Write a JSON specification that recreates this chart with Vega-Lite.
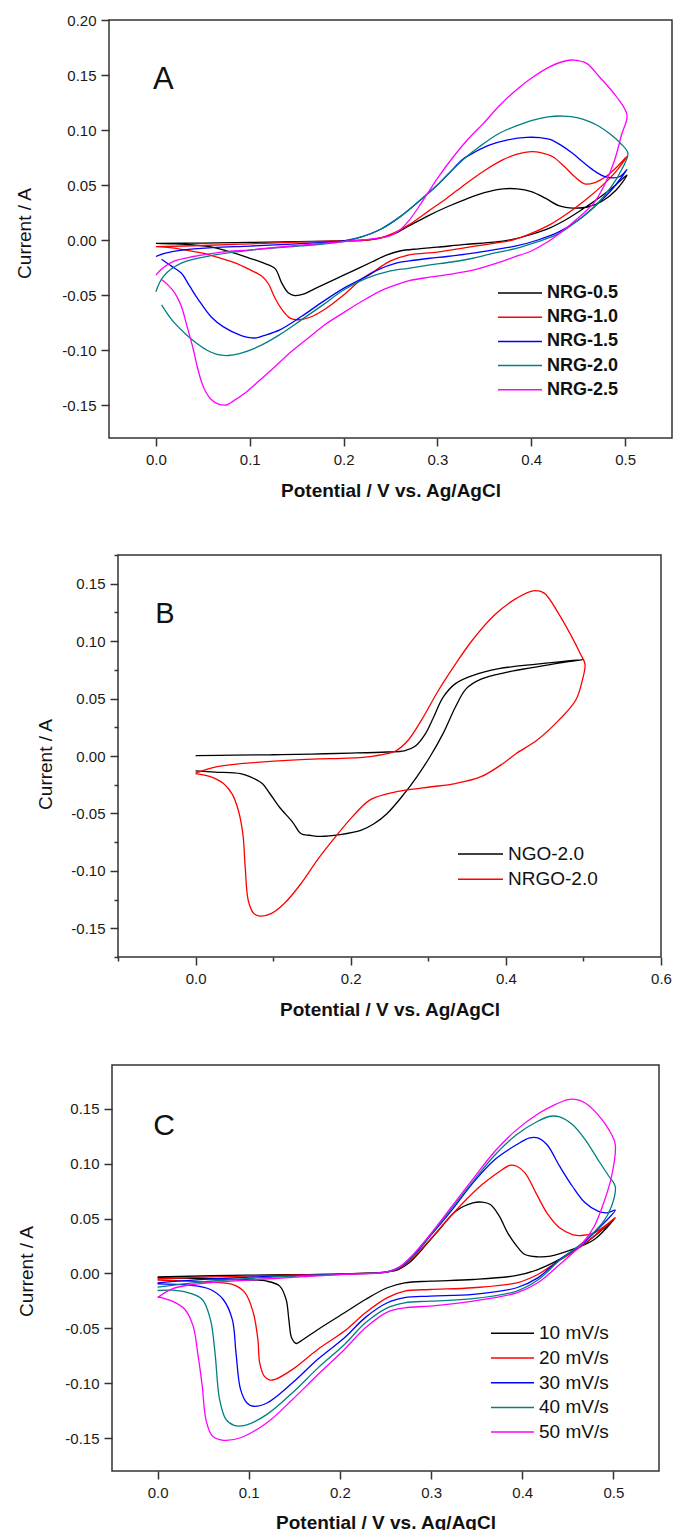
{
"$schema": "https://vega.github.io/schema/vega-lite/v6.json",
"padding": {"left": 0, "top": 12, "right": 0, "bottom": 0},
"spacing": 0,
"resolve": {"scale": {"color": "independent"}, "legend": {"color": "independent"}},
"config": {
  "font": "Liberation Sans",
  "view": {"stroke": "#333333", "strokeWidth": 1.5},
  "axis": {"domain": false, "grid": false, "tickColor": "#333333", "tickWidth": 1.5, "labelFont": "Liberation Sans", "labelFontSize": 15, "labelColor": "#1a1a1a", "titleFont": "Liberation Sans", "titleColor": "#111111", "labelOverlap": false, "labelFlush": false, "labelBound": false},
  "legend": {"padding": 0}
},
"vconcat": [
{"spacing": 0, "resolve": {"scale": {"color": "independent"}}, "hconcat": [
  {"width": 14, "height": 527, "view": {"stroke": null}, "data": {"values": []}, "mark": "point"},
  {"width": 563, "height": 418,
   "encoding": {
     "x": {"field": "x", "type": "quantitative", "scale": {"domain": [-0.05, 0.55], "nice": false, "zero": false},
           "axis": {"values": [0, 0.1, 0.2, 0.3, 0.4, 0.5], "format": ".1f", "tickSize": 8, "labelPadding": 6, "title": "Potential / V vs. Ag/AgCl", "titleFontSize": 19, "titleFontWeight": "bold", "titleBaseline": "alphabetic", "titleY": 58.3}},
     "y": {"field": "y", "type": "quantitative", "scale": {"domain": [-0.18, 0.2], "nice": false, "zero": false},
           "axis": {"values": [-0.15, -0.1, -0.05, 0, 0.05, 0.1, 0.15, 0.2], "labelExpr": "replace(format(datum.value, '.2f'), '\u2212', '-')", "tickSize": 8, "labelPadding": 5, "title": "Current / A", "titleFontSize": 19, "titleFontWeight": "normal", "titleAngle": 270, "titleBaseline": "middle", "titleAlign": "center", "titleX": -85, "titleY": 213}}
   },
   "layer": [
     {"data": {"values": [
{"s":"NRG-0.5","i":0,"x":0,"y":-0.003},{"s":"NRG-0.5","i":1,"x":0.05,"y":-0.0028},{"s":"NRG-0.5","i":2,"x":0.1,"y":-0.0022},{"s":"NRG-0.5","i":3,"x":0.15,"y":-0.0015},{"s":"NRG-0.5","i":4,"x":0.2,"y":-0.0008},{"s":"NRG-0.5","i":5,"x":0.225,"y":0},{"s":"NRG-0.5","i":6,"x":0.24,"y":0.002},{"s":"NRG-0.5","i":7,"x":0.255,"y":0.006},{"s":"NRG-0.5","i":8,"x":0.27,"y":0.013},{"s":"NRG-0.5","i":9,"x":0.29,"y":0.022},{"s":"NRG-0.5","i":10,"x":0.31,"y":0.03},{"s":"NRG-0.5","i":11,"x":0.33,"y":0.037},{"s":"NRG-0.5","i":12,"x":0.35,"y":0.043},{"s":"NRG-0.5","i":13,"x":0.37,"y":0.0465},{"s":"NRG-0.5","i":14,"x":0.385,"y":0.0465},{"s":"NRG-0.5","i":15,"x":0.4,"y":0.044},{"s":"NRG-0.5","i":16,"x":0.415,"y":0.038},{"s":"NRG-0.5","i":17,"x":0.43,"y":0.031},{"s":"NRG-0.5","i":18,"x":0.445,"y":0.029},{"s":"NRG-0.5","i":19,"x":0.46,"y":0.03},{"s":"NRG-0.5","i":20,"x":0.475,"y":0.035},{"s":"NRG-0.5","i":21,"x":0.49,"y":0.045},{"s":"NRG-0.5","i":22,"x":0.502,"y":0.059},{"s":"NRG-0.5","i":23,"x":0.49,"y":0.05},{"s":"NRG-0.5","i":24,"x":0.475,"y":0.04},{"s":"NRG-0.5","i":25,"x":0.46,"y":0.031},{"s":"NRG-0.5","i":26,"x":0.44,"y":0.02},{"s":"NRG-0.5","i":27,"x":0.42,"y":0.011},{"s":"NRG-0.5","i":28,"x":0.4,"y":0.005},{"s":"NRG-0.5","i":29,"x":0.38,"y":0.0005},{"s":"NRG-0.5","i":30,"x":0.36,"y":-0.002},{"s":"NRG-0.5","i":31,"x":0.33,"y":-0.004},{"s":"NRG-0.5","i":32,"x":0.3,"y":-0.0065},{"s":"NRG-0.5","i":33,"x":0.28,"y":-0.008},{"s":"NRG-0.5","i":34,"x":0.26,"y":-0.01},{"s":"NRG-0.5","i":35,"x":0.245,"y":-0.014},{"s":"NRG-0.5","i":36,"x":0.23,"y":-0.02},{"s":"NRG-0.5","i":37,"x":0.21,"y":-0.028},{"s":"NRG-0.5","i":38,"x":0.19,"y":-0.036},{"s":"NRG-0.5","i":39,"x":0.17,"y":-0.044},{"s":"NRG-0.5","i":40,"x":0.158,"y":-0.049},{"s":"NRG-0.5","i":41,"x":0.148,"y":-0.0505},{"s":"NRG-0.5","i":42,"x":0.141,"y":-0.048},{"s":"NRG-0.5","i":43,"x":0.134,"y":-0.039},{"s":"NRG-0.5","i":44,"x":0.127,"y":-0.026},{"s":"NRG-0.5","i":45,"x":0.115,"y":-0.021},{"s":"NRG-0.5","i":46,"x":0.1,"y":-0.0166},{"s":"NRG-0.5","i":47,"x":0.08,"y":-0.011},{"s":"NRG-0.5","i":48,"x":0.06,"y":-0.0065},{"s":"NRG-0.5","i":49,"x":0.04,"y":-0.0045},{"s":"NRG-0.5","i":50,"x":0.02,"y":-0.0035},{"s":"NRG-0.5","i":51,"x":0,"y":-0.003},
{"s":"NRG-1.0","i":0,"x":0,"y":-0.006},{"s":"NRG-1.0","i":1,"x":0.05,"y":-0.005},{"s":"NRG-1.0","i":2,"x":0.1,"y":-0.0035},{"s":"NRG-1.0","i":3,"x":0.15,"y":-0.002},{"s":"NRG-1.0","i":4,"x":0.2,"y":-0.0008},{"s":"NRG-1.0","i":5,"x":0.225,"y":0},{"s":"NRG-1.0","i":6,"x":0.24,"y":0.002},{"s":"NRG-1.0","i":7,"x":0.255,"y":0.007},{"s":"NRG-1.0","i":8,"x":0.27,"y":0.014},{"s":"NRG-1.0","i":9,"x":0.29,"y":0.026},{"s":"NRG-1.0","i":10,"x":0.31,"y":0.038},{"s":"NRG-1.0","i":11,"x":0.33,"y":0.051},{"s":"NRG-1.0","i":12,"x":0.35,"y":0.063},{"s":"NRG-1.0","i":13,"x":0.37,"y":0.073},{"s":"NRG-1.0","i":14,"x":0.385,"y":0.078},{"s":"NRG-1.0","i":15,"x":0.4,"y":0.0803},{"s":"NRG-1.0","i":16,"x":0.41,"y":0.0795},{"s":"NRG-1.0","i":17,"x":0.423,"y":0.0757},{"s":"NRG-1.0","i":18,"x":0.435,"y":0.067},{"s":"NRG-1.0","i":19,"x":0.447,"y":0.057},{"s":"NRG-1.0","i":20,"x":0.457,"y":0.051},{"s":"NRG-1.0","i":21,"x":0.467,"y":0.052},{"s":"NRG-1.0","i":22,"x":0.48,"y":0.058},{"s":"NRG-1.0","i":23,"x":0.492,"y":0.067},{"s":"NRG-1.0","i":24,"x":0.502,"y":0.076},{"s":"NRG-1.0","i":25,"x":0.49,"y":0.062},{"s":"NRG-1.0","i":26,"x":0.475,"y":0.049},{"s":"NRG-1.0","i":27,"x":0.46,"y":0.038},{"s":"NRG-1.0","i":28,"x":0.44,"y":0.025},{"s":"NRG-1.0","i":29,"x":0.42,"y":0.014},{"s":"NRG-1.0","i":30,"x":0.4,"y":0.006},{"s":"NRG-1.0","i":31,"x":0.38,"y":0},{"s":"NRG-1.0","i":32,"x":0.36,"y":-0.003},{"s":"NRG-1.0","i":33,"x":0.33,"y":-0.007},{"s":"NRG-1.0","i":34,"x":0.3,"y":-0.011},{"s":"NRG-1.0","i":35,"x":0.27,"y":-0.0135},{"s":"NRG-1.0","i":36,"x":0.25,"y":-0.019},{"s":"NRG-1.0","i":37,"x":0.235,"y":-0.027},{"s":"NRG-1.0","i":38,"x":0.22,"y":-0.035},{"s":"NRG-1.0","i":39,"x":0.2,"y":-0.05},{"s":"NRG-1.0","i":40,"x":0.18,"y":-0.063},{"s":"NRG-1.0","i":41,"x":0.165,"y":-0.07},{"s":"NRG-1.0","i":42,"x":0.152,"y":-0.0725},{"s":"NRG-1.0","i":43,"x":0.143,"y":-0.071},{"s":"NRG-1.0","i":44,"x":0.135,"y":-0.064},{"s":"NRG-1.0","i":45,"x":0.127,"y":-0.053},{"s":"NRG-1.0","i":46,"x":0.12,"y":-0.04},{"s":"NRG-1.0","i":47,"x":0.113,"y":-0.033},{"s":"NRG-1.0","i":48,"x":0.1,"y":-0.027},{"s":"NRG-1.0","i":49,"x":0.085,"y":-0.021},{"s":"NRG-1.0","i":50,"x":0.07,"y":-0.017},{"s":"NRG-1.0","i":51,"x":0.05,"y":-0.012},{"s":"NRG-1.0","i":52,"x":0.03,"y":-0.009},{"s":"NRG-1.0","i":53,"x":0.015,"y":-0.007},{"s":"NRG-1.0","i":54,"x":0,"y":-0.006},
{"s":"NRG-1.5","i":0,"x":0,"y":-0.015},{"s":"NRG-1.5","i":1,"x":0.01,"y":-0.012},{"s":"NRG-1.5","i":2,"x":0.03,"y":-0.009},{"s":"NRG-1.5","i":3,"x":0.06,"y":-0.007},{"s":"NRG-1.5","i":4,"x":0.1,"y":-0.0055},{"s":"NRG-1.5","i":5,"x":0.15,"y":-0.0035},{"s":"NRG-1.5","i":6,"x":0.2,"y":-0.0008},{"s":"NRG-1.5","i":7,"x":0.22,"y":0.003},{"s":"NRG-1.5","i":8,"x":0.24,"y":0.01},{"s":"NRG-1.5","i":9,"x":0.26,"y":0.021},{"s":"NRG-1.5","i":10,"x":0.28,"y":0.035},{"s":"NRG-1.5","i":11,"x":0.3,"y":0.05},{"s":"NRG-1.5","i":12,"x":0.315,"y":0.063},{"s":"NRG-1.5","i":13,"x":0.327,"y":0.0733},{"s":"NRG-1.5","i":14,"x":0.34,"y":0.08},{"s":"NRG-1.5","i":15,"x":0.356,"y":0.0864},{"s":"NRG-1.5","i":16,"x":0.375,"y":0.091},{"s":"NRG-1.5","i":17,"x":0.395,"y":0.0933},{"s":"NRG-1.5","i":18,"x":0.41,"y":0.093},{"s":"NRG-1.5","i":19,"x":0.42,"y":0.0915},{"s":"NRG-1.5","i":20,"x":0.432,"y":0.086},{"s":"NRG-1.5","i":21,"x":0.444,"y":0.0788},{"s":"NRG-1.5","i":22,"x":0.455,"y":0.071},{"s":"NRG-1.5","i":23,"x":0.467,"y":0.063},{"s":"NRG-1.5","i":24,"x":0.477,"y":0.058},{"s":"NRG-1.5","i":25,"x":0.487,"y":0.0565},{"s":"NRG-1.5","i":26,"x":0.495,"y":0.058},{"s":"NRG-1.5","i":27,"x":0.502,"y":0.064},{"s":"NRG-1.5","i":28,"x":0.485,"y":0.045},{"s":"NRG-1.5","i":29,"x":0.467,"y":0.03},{"s":"NRG-1.5","i":30,"x":0.45,"y":0.018},{"s":"NRG-1.5","i":31,"x":0.43,"y":0.0076},{"s":"NRG-1.5","i":32,"x":0.407,"y":0},{"s":"NRG-1.5","i":33,"x":0.384,"y":-0.0054},{"s":"NRG-1.5","i":34,"x":0.36,"y":-0.009},{"s":"NRG-1.5","i":35,"x":0.338,"y":-0.012},{"s":"NRG-1.5","i":36,"x":0.31,"y":-0.015},{"s":"NRG-1.5","i":37,"x":0.292,"y":-0.0166},{"s":"NRG-1.5","i":38,"x":0.27,"y":-0.019},{"s":"NRG-1.5","i":39,"x":0.256,"y":-0.021},{"s":"NRG-1.5","i":40,"x":0.237,"y":-0.027},{"s":"NRG-1.5","i":41,"x":0.224,"y":-0.0333},{"s":"NRG-1.5","i":42,"x":0.2,"y":-0.044},{"s":"NRG-1.5","i":43,"x":0.178,"y":-0.056},{"s":"NRG-1.5","i":44,"x":0.155,"y":-0.0696},{"s":"NRG-1.5","i":45,"x":0.132,"y":-0.0817},{"s":"NRG-1.5","i":46,"x":0.115,"y":-0.087},{"s":"NRG-1.5","i":47,"x":0.107,"y":-0.089},{"s":"NRG-1.5","i":48,"x":0.098,"y":-0.0885},{"s":"NRG-1.5","i":49,"x":0.091,"y":-0.087},{"s":"NRG-1.5","i":50,"x":0.072,"y":-0.079},{"s":"NRG-1.5","i":51,"x":0.059,"y":-0.07},{"s":"NRG-1.5","i":52,"x":0.045,"y":-0.054},{"s":"NRG-1.5","i":53,"x":0.036,"y":-0.042},{"s":"NRG-1.5","i":54,"x":0.027,"y":-0.03},{"s":"NRG-1.5","i":55,"x":0.017,"y":-0.024},{"s":"NRG-1.5","i":56,"x":0.006,"y":-0.0175},
{"s":"NRG-2.0","i":0,"x":0,"y":-0.047},{"s":"NRG-2.0","i":1,"x":0.008,"y":-0.033},{"s":"NRG-2.0","i":2,"x":0.027,"y":-0.021},{"s":"NRG-2.0","i":3,"x":0.063,"y":-0.0136},{"s":"NRG-2.0","i":4,"x":0.109,"y":-0.0085},{"s":"NRG-2.0","i":5,"x":0.155,"y":-0.0054},{"s":"NRG-2.0","i":6,"x":0.2,"y":-0.0015},{"s":"NRG-2.0","i":7,"x":0.22,"y":0.003},{"s":"NRG-2.0","i":8,"x":0.24,"y":0.01},{"s":"NRG-2.0","i":9,"x":0.26,"y":0.021},{"s":"NRG-2.0","i":10,"x":0.28,"y":0.035},{"s":"NRG-2.0","i":11,"x":0.3,"y":0.05},{"s":"NRG-2.0","i":12,"x":0.315,"y":0.063},{"s":"NRG-2.0","i":13,"x":0.329,"y":0.0743},{"s":"NRG-2.0","i":14,"x":0.345,"y":0.085},{"s":"NRG-2.0","i":15,"x":0.366,"y":0.097},{"s":"NRG-2.0","i":16,"x":0.385,"y":0.104},{"s":"NRG-2.0","i":17,"x":0.402,"y":0.109},{"s":"NRG-2.0","i":18,"x":0.418,"y":0.112},{"s":"NRG-2.0","i":19,"x":0.434,"y":0.1127},{"s":"NRG-2.0","i":20,"x":0.45,"y":0.111},{"s":"NRG-2.0","i":21,"x":0.462,"y":0.1076},{"s":"NRG-2.0","i":22,"x":0.473,"y":0.103},{"s":"NRG-2.0","i":23,"x":0.483,"y":0.097},{"s":"NRG-2.0","i":24,"x":0.495,"y":0.088},{"s":"NRG-2.0","i":25,"x":0.503,"y":0.079},{"s":"NRG-2.0","i":26,"x":0.497,"y":0.065},{"s":"NRG-2.0","i":27,"x":0.485,"y":0.048},{"s":"NRG-2.0","i":28,"x":0.467,"y":0.03},{"s":"NRG-2.0","i":29,"x":0.45,"y":0.018},{"s":"NRG-2.0","i":30,"x":0.43,"y":0.006},{"s":"NRG-2.0","i":31,"x":0.407,"y":-0.0015},{"s":"NRG-2.0","i":32,"x":0.384,"y":-0.0076},{"s":"NRG-2.0","i":33,"x":0.36,"y":-0.012},{"s":"NRG-2.0","i":34,"x":0.338,"y":-0.0166},{"s":"NRG-2.0","i":35,"x":0.315,"y":-0.02},{"s":"NRG-2.0","i":36,"x":0.292,"y":-0.0227},{"s":"NRG-2.0","i":37,"x":0.269,"y":-0.0257},{"s":"NRG-2.0","i":38,"x":0.247,"y":-0.0287},{"s":"NRG-2.0","i":39,"x":0.224,"y":-0.0348},{"s":"NRG-2.0","i":40,"x":0.2,"y":-0.0454},{"s":"NRG-2.0","i":41,"x":0.178,"y":-0.059},{"s":"NRG-2.0","i":42,"x":0.155,"y":-0.0726},{"s":"NRG-2.0","i":43,"x":0.132,"y":-0.086},{"s":"NRG-2.0","i":44,"x":0.109,"y":-0.097},{"s":"NRG-2.0","i":45,"x":0.09,"y":-0.103},{"s":"NRG-2.0","i":46,"x":0.077,"y":-0.105},{"s":"NRG-2.0","i":47,"x":0.065,"y":-0.104},{"s":"NRG-2.0","i":48,"x":0.054,"y":-0.1},{"s":"NRG-2.0","i":49,"x":0.042,"y":-0.093},{"s":"NRG-2.0","i":50,"x":0.031,"y":-0.085},{"s":"NRG-2.0","i":51,"x":0.017,"y":-0.0726},{"s":"NRG-2.0","i":52,"x":0.006,"y":-0.059},
{"s":"NRG-2.5","i":0,"x":0,"y":-0.032},{"s":"NRG-2.5","i":1,"x":0.008,"y":-0.025},{"s":"NRG-2.5","i":2,"x":0.02,"y":-0.019},{"s":"NRG-2.5","i":3,"x":0.04,"y":-0.015},{"s":"NRG-2.5","i":4,"x":0.07,"y":-0.011},{"s":"NRG-2.5","i":5,"x":0.1,"y":-0.009},{"s":"NRG-2.5","i":6,"x":0.15,"y":-0.005},{"s":"NRG-2.5","i":7,"x":0.2,"y":-0.0015},{"s":"NRG-2.5","i":8,"x":0.23,"y":0.001},{"s":"NRG-2.5","i":9,"x":0.25,"y":0.004},{"s":"NRG-2.5","i":10,"x":0.26,"y":0.009},{"s":"NRG-2.5","i":11,"x":0.27,"y":0.018},{"s":"NRG-2.5","i":12,"x":0.28,"y":0.03},{"s":"NRG-2.5","i":13,"x":0.29,"y":0.043},{"s":"NRG-2.5","i":14,"x":0.3,"y":0.056},{"s":"NRG-2.5","i":15,"x":0.317,"y":0.0757},{"s":"NRG-2.5","i":16,"x":0.333,"y":0.092},{"s":"NRG-2.5","i":17,"x":0.349,"y":0.106},{"s":"NRG-2.5","i":18,"x":0.366,"y":0.122},{"s":"NRG-2.5","i":19,"x":0.384,"y":0.1364},{"s":"NRG-2.5","i":20,"x":0.4,"y":0.147},{"s":"NRG-2.5","i":21,"x":0.42,"y":0.1576},{"s":"NRG-2.5","i":22,"x":0.435,"y":0.1625},{"s":"NRG-2.5","i":23,"x":0.446,"y":0.1636},{"s":"NRG-2.5","i":24,"x":0.459,"y":0.1606},{"s":"NRG-2.5","i":25,"x":0.473,"y":0.148},{"s":"NRG-2.5","i":26,"x":0.491,"y":0.13},{"s":"NRG-2.5","i":27,"x":0.502,"y":0.1136},{"s":"NRG-2.5","i":28,"x":0.496,"y":0.095},{"s":"NRG-2.5","i":29,"x":0.489,"y":0.073},{"s":"NRG-2.5","i":30,"x":0.478,"y":0.05},{"s":"NRG-2.5","i":31,"x":0.467,"y":0.034},{"s":"NRG-2.5","i":32,"x":0.45,"y":0.02},{"s":"NRG-2.5","i":33,"x":0.43,"y":0.006},{"s":"NRG-2.5","i":34,"x":0.415,"y":-0.003},{"s":"NRG-2.5","i":35,"x":0.4,"y":-0.01},{"s":"NRG-2.5","i":36,"x":0.38,"y":-0.016},{"s":"NRG-2.5","i":37,"x":0.36,"y":-0.022},{"s":"NRG-2.5","i":38,"x":0.34,"y":-0.027},{"s":"NRG-2.5","i":39,"x":0.315,"y":-0.031},{"s":"NRG-2.5","i":40,"x":0.29,"y":-0.034},{"s":"NRG-2.5","i":41,"x":0.27,"y":-0.037},{"s":"NRG-2.5","i":42,"x":0.255,"y":-0.041},{"s":"NRG-2.5","i":43,"x":0.24,"y":-0.046},{"s":"NRG-2.5","i":44,"x":0.225,"y":-0.053},{"s":"NRG-2.5","i":45,"x":0.2,"y":-0.066},{"s":"NRG-2.5","i":46,"x":0.18,"y":-0.077},{"s":"NRG-2.5","i":47,"x":0.164,"y":-0.088},{"s":"NRG-2.5","i":48,"x":0.145,"y":-0.101},{"s":"NRG-2.5","i":49,"x":0.127,"y":-0.115},{"s":"NRG-2.5","i":50,"x":0.11,"y":-0.128},{"s":"NRG-2.5","i":51,"x":0.095,"y":-0.139},{"s":"NRG-2.5","i":52,"x":0.083,"y":-0.146},{"s":"NRG-2.5","i":53,"x":0.075,"y":-0.15},{"s":"NRG-2.5","i":54,"x":0.066,"y":-0.149},{"s":"NRG-2.5","i":55,"x":0.059,"y":-0.145},{"s":"NRG-2.5","i":56,"x":0.053,"y":-0.138},{"s":"NRG-2.5","i":57,"x":0.049,"y":-0.13},{"s":"NRG-2.5","i":58,"x":0.044,"y":-0.115},{"s":"NRG-2.5","i":59,"x":0.04,"y":-0.1},{"s":"NRG-2.5","i":60,"x":0.033,"y":-0.078},{"s":"NRG-2.5","i":61,"x":0.027,"y":-0.06},{"s":"NRG-2.5","i":62,"x":0.02,"y":-0.048},{"s":"NRG-2.5","i":63,"x":0.013,"y":-0.041},{"s":"NRG-2.5","i":64,"x":0.006,"y":-0.036}
     ]},
      "mark": {"type": "line", "strokeWidth": 1.3, "interpolate": "catmull-rom"},
      "encoding": {
        "color": {"field": "s", "type": "nominal", "scale": {"domain": ["NRG-0.5", "NRG-1.0", "NRG-1.5", "NRG-2.0", "NRG-2.5"], "range": ["#000000", "#ff0000", "#0000ff", "#008080", "#ff00ff"]},
                  "legend": {"orient": "none", "legendX": 388, "legendY": 264, "title": null, "symbolType": "stroke", "symbolSize": 1936, "symbolStrokeWidth": 1.5, "clipHeight": 18, "labelFont": "Liberation Sans", "labelFontSize": 18, "labelFontWeight": "bold", "labelColor": "#111111", "labelOffset": 4, "rowPadding": 6.2, "padding": 0}},
        "order": {"field": "i", "type": "quantitative"}
      }},
     {"data": {"values": [{"t": "A", "x": 0.0078, "y": 0.137}]},
      "mark": {"type": "text", "fontSize": 31, "align": "center", "baseline": "alphabetic", "color": "#111111", "font": "Liberation Sans"},
      "encoding": {"text": {"field": "t"}}}
   ]}
]},
{"spacing": 0, "resolve": {"scale": {"color": "independent"}}, "hconcat": [
  {"width": 35, "height": 509, "view": {"stroke": null}, "data": {"values": []}, "mark": "point"},
  {"width": 543, "height": 402,
   "encoding": {
     "x": {"field": "x", "type": "quantitative", "scale": {"domain": [-0.1, 0.6], "nice": false, "zero": false},
           "axis": {"values": [-0.1, 0, 0.1, 0.2, 0.3, 0.4, 0.5, 0.6], "labelExpr": "abs(datum.value*5 - round(datum.value*5)) > 0.01 ? '' : format(datum.value, '.1f')", "tickSize": {"condition": {"test": "abs(datum.value*5 - round(datum.value*5)) > 0.01", "value": 4}, "value": 8}, "labelPadding": 6, "title": "Potential / V vs. Ag/AgCl", "titleFontSize": 19, "titleFontWeight": "bold", "titleBaseline": "alphabetic", "titleY": 58.3}},
     "y": {"field": "y", "type": "quantitative", "scale": {"domain": [-0.175, 0.175], "nice": false, "zero": false},
           "axis": {"values": [-0.175, -0.15, -0.125, -0.1, -0.075, -0.05, -0.025, 0, 0.025, 0.05, 0.075, 0.1, 0.125, 0.15, 0.175], "labelExpr": "abs(datum.value*20 - round(datum.value*20)) > 0.01 ? '' : replace(format(datum.value, '.2f'), '\u2212', '-')", "tickSize": {"condition": {"test": "abs(datum.value*20 - round(datum.value*20)) > 0.01", "value": 4}, "value": 8}, "labelPadding": 5, "title": "Current / A", "titleFontSize": 19, "titleFontWeight": "normal", "titleAngle": 270, "titleBaseline": "middle", "titleAlign": "center", "titleX": -73, "titleY": 209}}
   },
   "layer": [
     {"data": {"values": [
{"s":"NGO-2.0","i":0,"x":0,"y":0.0003},{"s":"NGO-2.0","i":1,"x":0.05,"y":0.0007},{"s":"NGO-2.0","i":2,"x":0.1,"y":0.0011},{"s":"NGO-2.0","i":3,"x":0.15,"y":0.0017},{"s":"NGO-2.0","i":4,"x":0.2,"y":0.0025},{"s":"NGO-2.0","i":5,"x":0.247,"y":0.0035},{"s":"NGO-2.0","i":6,"x":0.269,"y":0.0044},{"s":"NGO-2.0","i":7,"x":0.283,"y":0.0084},{"s":"NGO-2.0","i":8,"x":0.296,"y":0.019},{"s":"NGO-2.0","i":9,"x":0.307,"y":0.034},{"s":"NGO-2.0","i":10,"x":0.319,"y":0.051},{"s":"NGO-2.0","i":11,"x":0.335,"y":0.063},{"s":"NGO-2.0","i":12,"x":0.357,"y":0.07},{"s":"NGO-2.0","i":13,"x":0.391,"y":0.076},{"s":"NGO-2.0","i":14,"x":0.44,"y":0.08},{"s":"NGO-2.0","i":15,"x":0.5,"y":0.084},{"s":"NGO-2.0","i":16,"x":0.47,"y":0.081},{"s":"NGO-2.0","i":17,"x":0.44,"y":0.0776},{"s":"NGO-2.0","i":18,"x":0.402,"y":0.073},{"s":"NGO-2.0","i":19,"x":0.368,"y":0.067},{"s":"NGO-2.0","i":20,"x":0.349,"y":0.0587},{"s":"NGO-2.0","i":21,"x":0.335,"y":0.0427},{"s":"NGO-2.0","i":22,"x":0.319,"y":0.0195},{"s":"NGO-2.0","i":23,"x":0.302,"y":-0.0009},{"s":"NGO-2.0","i":24,"x":0.285,"y":-0.0183},{"s":"NGO-2.0","i":25,"x":0.269,"y":-0.0328},{"s":"NGO-2.0","i":26,"x":0.247,"y":-0.05},{"s":"NGO-2.0","i":27,"x":0.23,"y":-0.059},{"s":"NGO-2.0","i":28,"x":0.213,"y":-0.0648},{"s":"NGO-2.0","i":29,"x":0.186,"y":-0.0685},{"s":"NGO-2.0","i":30,"x":0.161,"y":-0.07},{"s":"NGO-2.0","i":31,"x":0.147,"y":-0.069},{"s":"NGO-2.0","i":32,"x":0.136,"y":-0.0677},{"s":"NGO-2.0","i":33,"x":0.125,"y":-0.0575},{"s":"NGO-2.0","i":34,"x":0.108,"y":-0.0444},{"s":"NGO-2.0","i":35,"x":0.095,"y":-0.032},{"s":"NGO-2.0","i":36,"x":0.086,"y":-0.024},{"s":"NGO-2.0","i":37,"x":0.07,"y":-0.018},{"s":"NGO-2.0","i":38,"x":0.058,"y":-0.0154},{"s":"NGO-2.0","i":39,"x":0.025,"y":-0.014},{"s":"NGO-2.0","i":40,"x":0,"y":-0.013},
{"s":"NRGO-2.0","i":0,"x":0,"y":-0.015},{"s":"NRGO-2.0","i":1,"x":0.025,"y":-0.0096},{"s":"NRGO-2.0","i":2,"x":0.058,"y":-0.0067},{"s":"NRGO-2.0","i":3,"x":0.136,"y":-0.0032},{"s":"NRGO-2.0","i":4,"x":0.219,"y":-0.0009},{"s":"NRGO-2.0","i":5,"x":0.247,"y":0.002},{"s":"NRGO-2.0","i":6,"x":0.258,"y":0.0044},{"s":"NRGO-2.0","i":7,"x":0.274,"y":0.0137},{"s":"NRGO-2.0","i":8,"x":0.291,"y":0.031},{"s":"NRGO-2.0","i":9,"x":0.313,"y":0.057},{"s":"NRGO-2.0","i":10,"x":0.335,"y":0.08},{"s":"NRGO-2.0","i":11,"x":0.357,"y":0.101},{"s":"NRGO-2.0","i":12,"x":0.385,"y":0.1226},{"s":"NRGO-2.0","i":13,"x":0.413,"y":0.137},{"s":"NRGO-2.0","i":14,"x":0.435,"y":0.1438},{"s":"NRGO-2.0","i":15,"x":0.449,"y":0.142},{"s":"NRGO-2.0","i":16,"x":0.468,"y":0.124},{"s":"NRGO-2.0","i":17,"x":0.485,"y":0.1037},{"s":"NRGO-2.0","i":18,"x":0.496,"y":0.089},{"s":"NRGO-2.0","i":19,"x":0.502,"y":0.08},{"s":"NRGO-2.0","i":20,"x":0.4986,"y":0.066},{"s":"NRGO-2.0","i":21,"x":0.49,"y":0.0485},{"s":"NRGO-2.0","i":22,"x":0.468,"y":0.031},{"s":"NRGO-2.0","i":23,"x":0.44,"y":0.0137},{"s":"NRGO-2.0","i":24,"x":0.413,"y":0.002},{"s":"NRGO-2.0","i":25,"x":0.396,"y":-0.0067},{"s":"NRGO-2.0","i":26,"x":0.368,"y":-0.018},{"s":"NRGO-2.0","i":27,"x":0.335,"y":-0.024},{"s":"NRGO-2.0","i":28,"x":0.302,"y":-0.027},{"s":"NRGO-2.0","i":29,"x":0.269,"y":-0.03},{"s":"NRGO-2.0","i":30,"x":0.247,"y":-0.033},{"s":"NRGO-2.0","i":31,"x":0.224,"y":-0.0386},{"s":"NRGO-2.0","i":32,"x":0.202,"y":-0.053},{"s":"NRGO-2.0","i":33,"x":0.18,"y":-0.0706},{"s":"NRGO-2.0","i":34,"x":0.158,"y":-0.0895},{"s":"NRGO-2.0","i":35,"x":0.136,"y":-0.111},{"s":"NRGO-2.0","i":36,"x":0.114,"y":-0.1287},{"s":"NRGO-2.0","i":37,"x":0.098,"y":-0.137},{"s":"NRGO-2.0","i":38,"x":0.083,"y":-0.1394},{"s":"NRGO-2.0","i":39,"x":0.075,"y":-0.137},{"s":"NRGO-2.0","i":40,"x":0.068,"y":-0.126},{"s":"NRGO-2.0","i":41,"x":0.064,"y":-0.097},{"s":"NRGO-2.0","i":42,"x":0.061,"y":-0.068},{"s":"NRGO-2.0","i":43,"x":0.055,"y":-0.047},{"s":"NRGO-2.0","i":44,"x":0.047,"y":-0.033},{"s":"NRGO-2.0","i":45,"x":0.036,"y":-0.024},{"s":"NRGO-2.0","i":46,"x":0.019,"y":-0.018},{"s":"NRGO-2.0","i":47,"x":0,"y":-0.0154}
     ]},
      "mark": {"type": "line", "strokeWidth": 1.3, "interpolate": "catmull-rom"},
      "encoding": {
        "color": {"field": "s", "type": "nominal", "scale": {"domain": ["NGO-2.0", "NRGO-2.0"], "range": ["#000000", "#ff0000"]},
                  "legend": {"orient": "none", "legendX": 339, "legendY": 289.5, "title": null, "symbolType": "stroke", "symbolSize": 2025, "symbolStrokeWidth": 1.5, "clipHeight": 19, "labelFont": "Liberation Sans", "labelFontSize": 19, "labelFontWeight": "normal", "labelColor": "#111111", "labelOffset": 4, "rowPadding": 5.3, "padding": 0}},
        "order": {"field": "i", "type": "quantitative"}
      }},
     {"data": {"values": [{"t": "B", "x": -0.0395, "y": 0.1157}]},
      "mark": {"type": "text", "fontSize": 29, "align": "center", "baseline": "alphabetic", "color": "#111111", "font": "Liberation Sans"},
      "encoding": {"text": {"field": "t"}}}
   ]}
]},
{"spacing": 0, "resolve": {"scale": {"color": "independent"}}, "hconcat": [
  {"width": 16, "height": 10, "view": {"stroke": null}, "data": {"values": []}, "mark": "point"},
  {"width": 547, "height": 406,
   "encoding": {
     "x": {"field": "x", "type": "quantitative", "scale": {"domain": [-0.05, 0.55], "nice": false, "zero": false},
           "axis": {"values": [0, 0.1, 0.2, 0.3, 0.4, 0.5], "format": ".1f", "tickSize": 8, "labelPadding": 6, "title": "Potential / V vs. Ag/AgCl", "titleFontSize": 19, "titleFontWeight": "bold", "titleBaseline": "alphabetic", "titleY": 57.5}},
     "y": {"field": "y", "type": "quantitative", "scale": {"domain": [-0.18, 0.19], "nice": false, "zero": false},
           "axis": {"values": [-0.15, -0.1, -0.05, 0, 0.05, 0.1, 0.15], "labelExpr": "replace(format(datum.value, '.2f'), '\u2212', '-')", "tickSize": 8, "labelPadding": 5, "title": "Current / A", "titleFontSize": 19, "titleFontWeight": "normal", "titleAngle": 270, "titleBaseline": "middle", "titleAlign": "center", "titleX": -86, "titleY": 206}}
   },
   "layer": [
     {"data": {"values": [
{"s":"10 mV/s","i":0,"x":0,"y":-0.003},{"s":"10 mV/s","i":1,"x":0.1,"y":-0.0015},{"s":"10 mV/s","i":2,"x":0.205,"y":-0.0003},{"s":"10 mV/s","i":3,"x":0.252,"y":0.0015},{"s":"10 mV/s","i":4,"x":0.264,"y":0.0036},{"s":"10 mV/s","i":5,"x":0.276,"y":0.0097},{"s":"10 mV/s","i":6,"x":0.29,"y":0.0219},{"s":"10 mV/s","i":7,"x":0.309,"y":0.04},{"s":"10 mV/s","i":8,"x":0.327,"y":0.0568},{"s":"10 mV/s","i":9,"x":0.346,"y":0.0644},{"s":"10 mV/s","i":10,"x":0.356,"y":0.065},{"s":"10 mV/s","i":11,"x":0.365,"y":0.0628},{"s":"10 mV/s","i":12,"x":0.375,"y":0.052},{"s":"10 mV/s","i":13,"x":0.384,"y":0.037},{"s":"10 mV/s","i":14,"x":0.394,"y":0.025},{"s":"10 mV/s","i":15,"x":0.403,"y":0.0173},{"s":"10 mV/s","i":16,"x":0.417,"y":0.0152},{"s":"10 mV/s","i":17,"x":0.431,"y":0.0158},{"s":"10 mV/s","i":18,"x":0.455,"y":0.0219},{"s":"10 mV/s","i":19,"x":0.479,"y":0.031},{"s":"10 mV/s","i":20,"x":0.502,"y":0.0507},{"s":"10 mV/s","i":21,"x":0.488,"y":0.04},{"s":"10 mV/s","i":22,"x":0.465,"y":0.025},{"s":"10 mV/s","i":23,"x":0.441,"y":0.0128},{"s":"10 mV/s","i":24,"x":0.417,"y":0.0036},{"s":"10 mV/s","i":25,"x":0.394,"y":-0.0018},{"s":"10 mV/s","i":26,"x":0.346,"y":-0.0055},{"s":"10 mV/s","i":27,"x":0.299,"y":-0.007},{"s":"10 mV/s","i":28,"x":0.271,"y":-0.0085},{"s":"10 mV/s","i":29,"x":0.252,"y":-0.013},{"s":"10 mV/s","i":30,"x":0.228,"y":-0.0237},{"s":"10 mV/s","i":31,"x":0.205,"y":-0.0358},{"s":"10 mV/s","i":32,"x":0.176,"y":-0.051},{"s":"10 mV/s","i":33,"x":0.157,"y":-0.0616},{"s":"10 mV/s","i":34,"x":0.152,"y":-0.0638},{"s":"10 mV/s","i":35,"x":0.147,"y":-0.0586},{"s":"10 mV/s","i":36,"x":0.144,"y":-0.042},{"s":"10 mV/s","i":37,"x":0.141,"y":-0.0237},{"s":"10 mV/s","i":38,"x":0.134,"y":-0.0115},{"s":"10 mV/s","i":39,"x":0.12,"y":-0.007},{"s":"10 mV/s","i":40,"x":0.086,"y":-0.0055},{"s":"10 mV/s","i":41,"x":0.039,"y":-0.0045},{"s":"10 mV/s","i":42,"x":0,"y":-0.004},
{"s":"20 mV/s","i":0,"x":0,"y":-0.005},{"s":"20 mV/s","i":1,"x":0.063,"y":-0.003},{"s":"20 mV/s","i":2,"x":0.205,"y":-0.0003},{"s":"20 mV/s","i":3,"x":0.252,"y":0.0015},{"s":"20 mV/s","i":4,"x":0.266,"y":0.005},{"s":"20 mV/s","i":5,"x":0.28,"y":0.0143},{"s":"20 mV/s","i":6,"x":0.299,"y":0.031},{"s":"20 mV/s","i":7,"x":0.318,"y":0.049},{"s":"20 mV/s","i":8,"x":0.337,"y":0.066},{"s":"20 mV/s","i":9,"x":0.356,"y":0.081},{"s":"20 mV/s","i":10,"x":0.375,"y":0.093},{"s":"20 mV/s","i":11,"x":0.387,"y":0.0987},{"s":"20 mV/s","i":12,"x":0.394,"y":0.0977},{"s":"20 mV/s","i":13,"x":0.403,"y":0.0917},{"s":"20 mV/s","i":14,"x":0.415,"y":0.0735},{"s":"20 mV/s","i":15,"x":0.427,"y":0.0553},{"s":"20 mV/s","i":16,"x":0.441,"y":0.0416},{"s":"20 mV/s","i":17,"x":0.455,"y":0.0355},{"s":"20 mV/s","i":18,"x":0.465,"y":0.0346},{"s":"20 mV/s","i":19,"x":0.479,"y":0.037},{"s":"20 mV/s","i":20,"x":0.502,"y":0.0507},{"s":"20 mV/s","i":21,"x":0.488,"y":0.0407},{"s":"20 mV/s","i":22,"x":0.465,"y":0.025},{"s":"20 mV/s","i":23,"x":0.441,"y":0.012},{"s":"20 mV/s","i":24,"x":0.417,"y":-0.0009},{"s":"20 mV/s","i":25,"x":0.394,"y":-0.0085},{"s":"20 mV/s","i":26,"x":0.346,"y":-0.013},{"s":"20 mV/s","i":27,"x":0.299,"y":-0.0146},{"s":"20 mV/s","i":28,"x":0.271,"y":-0.016},{"s":"20 mV/s","i":29,"x":0.252,"y":-0.022},{"s":"20 mV/s","i":30,"x":0.228,"y":-0.0358},{"s":"20 mV/s","i":31,"x":0.205,"y":-0.0525},{"s":"20 mV/s","i":32,"x":0.176,"y":-0.069},{"s":"20 mV/s","i":33,"x":0.148,"y":-0.0874},{"s":"20 mV/s","i":34,"x":0.129,"y":-0.0965},{"s":"20 mV/s","i":35,"x":0.123,"y":-0.0971},{"s":"20 mV/s","i":36,"x":0.117,"y":-0.0935},{"s":"20 mV/s","i":37,"x":0.112,"y":-0.0814},{"s":"20 mV/s","i":38,"x":0.11,"y":-0.06},{"s":"20 mV/s","i":39,"x":0.105,"y":-0.0358},{"s":"20 mV/s","i":40,"x":0.096,"y":-0.0176},{"s":"20 mV/s","i":41,"x":0.082,"y":-0.01},{"s":"20 mV/s","i":42,"x":0.053,"y":-0.0079},{"s":"20 mV/s","i":43,"x":0.025,"y":-0.0067},{"s":"20 mV/s","i":44,"x":0,"y":-0.006},
{"s":"30 mV/s","i":0,"x":0,"y":-0.0085},{"s":"30 mV/s","i":1,"x":0.039,"y":-0.006},{"s":"30 mV/s","i":2,"x":0.11,"y":-0.003},{"s":"30 mV/s","i":3,"x":0.205,"y":-0.0006},{"s":"30 mV/s","i":4,"x":0.252,"y":0.0015},{"s":"30 mV/s","i":5,"x":0.266,"y":0.0058},{"s":"30 mV/s","i":6,"x":0.28,"y":0.0158},{"s":"30 mV/s","i":7,"x":0.299,"y":0.034},{"s":"30 mV/s","i":8,"x":0.323,"y":0.058},{"s":"30 mV/s","i":9,"x":0.346,"y":0.0826},{"s":"30 mV/s","i":10,"x":0.37,"y":0.1038},{"s":"30 mV/s","i":11,"x":0.394,"y":0.1175},{"s":"30 mV/s","i":12,"x":0.408,"y":0.1236},{"s":"30 mV/s","i":13,"x":0.417,"y":0.1236},{"s":"30 mV/s","i":14,"x":0.427,"y":0.1175},{"s":"30 mV/s","i":15,"x":0.441,"y":0.0978},{"s":"30 mV/s","i":16,"x":0.455,"y":0.0795},{"s":"30 mV/s","i":17,"x":0.469,"y":0.0644},{"s":"30 mV/s","i":18,"x":0.483,"y":0.0568},{"s":"30 mV/s","i":19,"x":0.493,"y":0.0553},{"s":"30 mV/s","i":20,"x":0.502,"y":0.0577},{"s":"30 mV/s","i":21,"x":0.488,"y":0.0446},{"s":"30 mV/s","i":22,"x":0.465,"y":0.0264},{"s":"30 mV/s","i":23,"x":0.441,"y":0.0128},{"s":"30 mV/s","i":24,"x":0.417,"y":-0.004},{"s":"30 mV/s","i":25,"x":0.394,"y":-0.013},{"s":"30 mV/s","i":26,"x":0.346,"y":-0.019},{"s":"30 mV/s","i":27,"x":0.299,"y":-0.0206},{"s":"30 mV/s","i":28,"x":0.271,"y":-0.022},{"s":"30 mV/s","i":29,"x":0.252,"y":-0.0267},{"s":"30 mV/s","i":30,"x":0.228,"y":-0.04},{"s":"30 mV/s","i":31,"x":0.205,"y":-0.0586},{"s":"30 mV/s","i":32,"x":0.176,"y":-0.078},{"s":"30 mV/s","i":33,"x":0.148,"y":-0.0996},{"s":"30 mV/s","i":34,"x":0.12,"y":-0.118},{"s":"30 mV/s","i":35,"x":0.105,"y":-0.121},{"s":"30 mV/s","i":36,"x":0.098,"y":-0.118},{"s":"30 mV/s","i":37,"x":0.091,"y":-0.1056},{"s":"30 mV/s","i":38,"x":0.086,"y":-0.0723},{"s":"30 mV/s","i":39,"x":0.082,"y":-0.042},{"s":"30 mV/s","i":40,"x":0.072,"y":-0.0237},{"s":"30 mV/s","i":41,"x":0.058,"y":-0.0146},{"s":"30 mV/s","i":42,"x":0.034,"y":-0.0106},{"s":"30 mV/s","i":43,"x":0,"y":-0.0094},
{"s":"40 mV/s","i":0,"x":0,"y":-0.0125},{"s":"40 mV/s","i":1,"x":0.039,"y":-0.0085},{"s":"40 mV/s","i":2,"x":0.11,"y":-0.004},{"s":"40 mV/s","i":3,"x":0.205,"y":-0.0006},{"s":"40 mV/s","i":4,"x":0.252,"y":0.0015},{"s":"40 mV/s","i":5,"x":0.266,"y":0.006},{"s":"40 mV/s","i":6,"x":0.28,"y":0.0164},{"s":"40 mV/s","i":7,"x":0.299,"y":0.0346},{"s":"40 mV/s","i":8,"x":0.323,"y":0.0598},{"s":"40 mV/s","i":9,"x":0.346,"y":0.084},{"s":"40 mV/s","i":10,"x":0.37,"y":0.108},{"s":"40 mV/s","i":11,"x":0.394,"y":0.1266},{"s":"40 mV/s","i":12,"x":0.417,"y":0.1387},{"s":"40 mV/s","i":13,"x":0.431,"y":0.1433},{"s":"40 mV/s","i":14,"x":0.441,"y":0.1427},{"s":"40 mV/s","i":15,"x":0.455,"y":0.1357},{"s":"40 mV/s","i":16,"x":0.469,"y":0.122},{"s":"40 mV/s","i":17,"x":0.483,"y":0.1038},{"s":"40 mV/s","i":18,"x":0.495,"y":0.0886},{"s":"40 mV/s","i":19,"x":0.502,"y":0.0795},{"s":"40 mV/s","i":20,"x":0.498,"y":0.0613},{"s":"40 mV/s","i":21,"x":0.488,"y":0.046},{"s":"40 mV/s","i":22,"x":0.465,"y":0.0273},{"s":"40 mV/s","i":23,"x":0.441,"y":0.012},{"s":"40 mV/s","i":24,"x":0.417,"y":-0.006},{"s":"40 mV/s","i":25,"x":0.394,"y":-0.016},{"s":"40 mV/s","i":26,"x":0.346,"y":-0.023},{"s":"40 mV/s","i":27,"x":0.299,"y":-0.0252},{"s":"40 mV/s","i":28,"x":0.271,"y":-0.0267},{"s":"40 mV/s","i":29,"x":0.252,"y":-0.0313},{"s":"40 mV/s","i":30,"x":0.228,"y":-0.045},{"s":"40 mV/s","i":31,"x":0.205,"y":-0.0647},{"s":"40 mV/s","i":32,"x":0.176,"y":-0.086},{"s":"40 mV/s","i":33,"x":0.148,"y":-0.1087},{"s":"40 mV/s","i":34,"x":0.12,"y":-0.1284},{"s":"40 mV/s","i":35,"x":0.096,"y":-0.1384},{"s":"40 mV/s","i":36,"x":0.084,"y":-0.1384},{"s":"40 mV/s","i":37,"x":0.075,"y":-0.133},{"s":"40 mV/s","i":38,"x":0.068,"y":-0.1148},{"s":"40 mV/s","i":39,"x":0.063,"y":-0.0723},{"s":"40 mV/s","i":40,"x":0.058,"y":-0.042},{"s":"40 mV/s","i":41,"x":0.049,"y":-0.0237},{"s":"40 mV/s","i":42,"x":0.034,"y":-0.0176},{"s":"40 mV/s","i":43,"x":0.016,"y":-0.0152},{"s":"40 mV/s","i":44,"x":0,"y":-0.0155},
{"s":"50 mV/s","i":0,"x":0,"y":-0.022},{"s":"50 mV/s","i":1,"x":0.016,"y":-0.014},{"s":"50 mV/s","i":2,"x":0.039,"y":-0.01},{"s":"50 mV/s","i":3,"x":0.11,"y":-0.0055},{"s":"50 mV/s","i":4,"x":0.205,"y":-0.0009},{"s":"50 mV/s","i":5,"x":0.252,"y":0.0015},{"s":"50 mV/s","i":6,"x":0.266,"y":0.0064},{"s":"50 mV/s","i":7,"x":0.28,"y":0.017},{"s":"50 mV/s","i":8,"x":0.299,"y":0.0355},{"s":"50 mV/s","i":9,"x":0.323,"y":0.0613},{"s":"50 mV/s","i":10,"x":0.346,"y":0.0862},{"s":"50 mV/s","i":11,"x":0.37,"y":0.1114},{"s":"50 mV/s","i":12,"x":0.394,"y":0.1311},{"s":"50 mV/s","i":13,"x":0.417,"y":0.1454},{"s":"50 mV/s","i":14,"x":0.436,"y":0.1539},{"s":"50 mV/s","i":15,"x":0.45,"y":0.1585},{"s":"50 mV/s","i":16,"x":0.46,"y":0.1585},{"s":"50 mV/s","i":17,"x":0.469,"y":0.1554},{"s":"50 mV/s","i":18,"x":0.483,"y":0.1448},{"s":"50 mV/s","i":19,"x":0.495,"y":0.1311},{"s":"50 mV/s","i":20,"x":0.502,"y":0.1175},{"s":"50 mV/s","i":21,"x":0.498,"y":0.0886},{"s":"50 mV/s","i":22,"x":0.488,"y":0.0613},{"s":"50 mV/s","i":23,"x":0.479,"y":0.0431},{"s":"50 mV/s","i":24,"x":0.465,"y":0.0264},{"s":"50 mV/s","i":25,"x":0.441,"y":0.0082},{"s":"50 mV/s","i":26,"x":0.417,"y":-0.0085},{"s":"50 mV/s","i":27,"x":0.394,"y":-0.0176},{"s":"50 mV/s","i":28,"x":0.346,"y":-0.0252},{"s":"50 mV/s","i":29,"x":0.299,"y":-0.0297},{"s":"50 mV/s","i":30,"x":0.271,"y":-0.0313},{"s":"50 mV/s","i":31,"x":0.252,"y":-0.0352},{"s":"50 mV/s","i":32,"x":0.228,"y":-0.0495},{"s":"50 mV/s","i":33,"x":0.205,"y":-0.0692},{"s":"50 mV/s","i":34,"x":0.176,"y":-0.092},{"s":"50 mV/s","i":35,"x":0.148,"y":-0.1148},{"s":"50 mV/s","i":36,"x":0.12,"y":-0.136},{"s":"50 mV/s","i":37,"x":0.091,"y":-0.1497},{"s":"50 mV/s","i":38,"x":0.072,"y":-0.152},{"s":"50 mV/s","i":39,"x":0.06,"y":-0.148},{"s":"50 mV/s","i":40,"x":0.053,"y":-0.133},{"s":"50 mV/s","i":41,"x":0.049,"y":-0.1026},{"s":"50 mV/s","i":42,"x":0.044,"y":-0.0723},{"s":"50 mV/s","i":43,"x":0.039,"y":-0.048},{"s":"50 mV/s","i":44,"x":0.03,"y":-0.0328},{"s":"50 mV/s","i":45,"x":0.016,"y":-0.0252},{"s":"50 mV/s","i":46,"x":0,"y":-0.0213}
     ]},
      "mark": {"type": "line", "strokeWidth": 1.3, "interpolate": "catmull-rom"},
      "encoding": {
        "color": {"field": "s", "type": "nominal", "scale": {"domain": ["10 mV/s", "20 mV/s", "30 mV/s", "40 mV/s", "50 mV/s"], "range": ["#000000", "#ff0000", "#0000ff", "#008080", "#ff00ff"]},
                  "legend": {"orient": "none", "legendX": 378, "legendY": 258.8, "title": null, "symbolType": "stroke", "symbolSize": 1849, "symbolStrokeWidth": 1.5, "clipHeight": 19, "labelFont": "Liberation Sans", "labelFontSize": 19, "labelFontWeight": "normal", "labelColor": "#111111", "labelOffset": 4, "rowPadding": 4.7, "padding": 0}},
        "order": {"field": "i", "type": "quantitative"}
      }},
     {"data": {"values": [{"t": "C", "x": 0.0072, "y": 0.1264}]},
      "mark": {"type": "text", "fontSize": 30, "align": "center", "baseline": "alphabetic", "color": "#111111", "font": "Liberation Sans"},
      "encoding": {"text": {"field": "t"}}}
   ]}
]}
]
}
